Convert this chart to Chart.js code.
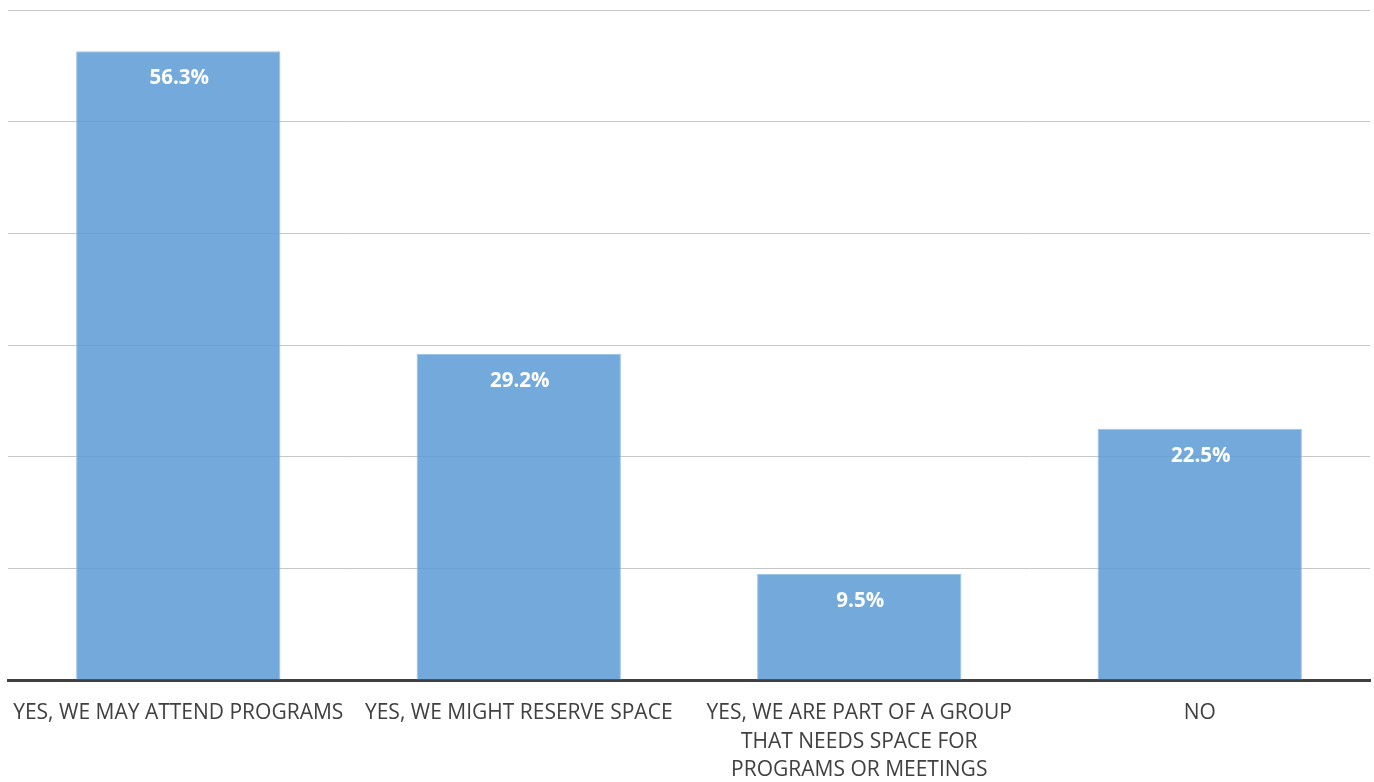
<!DOCTYPE html>
<html lang="en">
<head>
    <meta charset="UTF-8">
    <title>Survey Responses</title>
    <style>
        html, body {
            margin: 0;
            padding: 0;
            background: #ffffff;
        }
        .chart-wrap {
            width: 1374px;
            height: 782px;
        }
    </style>
</head>
<body>
    <div class="chart-wrap">
        <canvas id="responseChart"></canvas>
    </div>
    <script src="https://cdn.jsdelivr.net/npm/chart.js"></script>
    <script>
    // Answers and their share of respondents (%)
    const categories = [
        'YES, WE MAY ATTEND PROGRAMS',
        'YES, WE MIGHT RESERVE SPACE',
        ['YES, WE ARE PART OF A GROUP', 'THAT NEEDS SPACE FOR', 'PROGRAMS OR MEETINGS'],
        'NO'
    ];
    const percentages = [56.3, 29.2, 9.5, 22.5];
    const yTicks = [0, 10, 20, 30, 40, 50, 60];

    const fontFamily = "'Open Sans', 'Noto Sans', sans-serif";

    // white value label just inside the top of each bar
    const valueLabels = {
        id: 'valueLabels',
        afterDatasetsDraw(chart) {
            const ctx = chart.ctx;
            const meta = chart.getDatasetMeta(0);
            ctx.save();
            ctx.fillStyle = '#ffffff';
            ctx.font = 'bold 20.5px ' + fontFamily;
            ctx.textAlign = 'center';
            ctx.textBaseline = 'middle';
            meta.data.forEach(function(bar, i) {
                ctx.fillText(percentages[i].toFixed(1) + '%', bar.x + 1, bar.y + 27);
            });
            ctx.restore();
        }
    };

    new Chart(document.getElementById('responseChart'), {
        type: 'bar',
        data: {
            labels: categories,
            datasets: [{
                data: percentages,
                backgroundColor: 'rgba(91, 155, 213, 0.85)',
                borderColor: '#9dc3e6',
                borderWidth: 1,
                categoryPercentage: 0.6,
                barPercentage: 1.0
            }]
        },
        options: {
            responsive: true,
            maintainAspectRatio: false,
            animation: false,
            layout: {
                padding: { left: 8, right: 4, top: 10, bottom: 0 }
            },
            plugins: {
                legend: { display: false },
                tooltip: { enabled: false }
            },
            scales: {
                x: {
                    grid: { display: false },
                    border: { color: '#404040', width: 3 },
                    ticks: {
                        color: '#404040',
                        padding: 11,
                        maxRotation: 0,
                        autoSkip: false,
                        font: { family: fontFamily, size: 21, lineHeight: 1.36 }
                    },
                    afterFit(scale) {
                        scale.height = 102;
                    }
                },
                y: {
                    min: yTicks[0],
                    max: yTicks[yTicks.length - 1],
                    afterBuildTicks(scale) {
                        scale.ticks = yTicks.map(v => ({ value: v }));
                    },
                    grid: {
                        color: '#c6c6c6',
                        lineWidth: 1,
                        drawTicks: false
                    },
                    border: { display: false },
                    ticks: { display: false },
                    afterFit(scale) {
                        scale.width = 0;
                    }
                }
            }
        },
        plugins: [valueLabels]
    });
    </script>
</body>
</html>
